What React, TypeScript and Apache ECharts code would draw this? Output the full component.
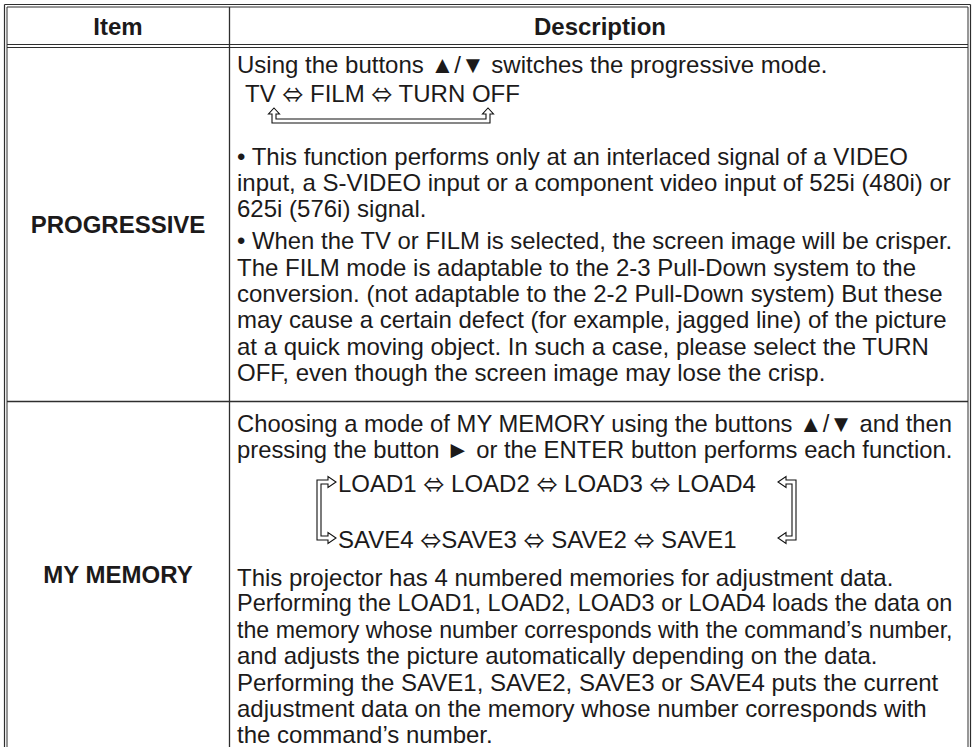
import React, { useEffect, useRef } from "react";
import * as echarts from "echarts";

const headers = ["Item", "Description"];
const items = ["PROGRESSIVE", "MY MEMORY"];
const progressiveIntro = "Using the buttons ▲/▼ switches the progressive mode.";
const progressiveCycle = "TV ⇔ FILM ⇔ TURN OFF";
const progressiveNote1 = [
  "• This function performs only at an interlaced signal of a VIDEO",
  "input, a S-VIDEO input or a component video input of 525i (480i) or",
  "625i (576i) signal.",
];
const progressiveNote2 = [
  "• When the TV or FILM is selected, the screen image will be crisper.",
  "The FILM mode is adaptable to the 2-3 Pull-Down system to the",
  "conversion. (not adaptable to the 2-2 Pull-Down system) But these",
  "may cause a certain defect (for example, jagged line) of the picture",
  "at a quick moving object. In such a case, please select the TURN",
  "OFF, even though the screen image may lose the crisp.",
];
const memoryIntro = [
  "Choosing a mode of MY MEMORY using the buttons ▲/▼ and then",
  "pressing the button ► or the ENTER button performs each function.",
];
const memoryLoad = "LOAD1 ⇔ LOAD2 ⇔ LOAD3 ⇔ LOAD4";
const memorySave = "SAVE4 ⇔SAVE3 ⇔ SAVE2 ⇔ SAVE1";
const memoryNote = [
  "This projector has 4 numbered memories for adjustment data.",
  "Performing the LOAD1, LOAD2, LOAD3 or LOAD4 loads the data on",
  "the memory whose number corresponds with the command’s number,",
  "and adjusts the picture automatically depending on the data.",
  "Performing the SAVE1, SAVE2, SAVE3 or SAVE4 puts the current",
  "adjustment data on the memory whose number corresponds with",
  "the command’s number.",
];

const FONT = "'Liberation Sans', Arial, 'Noto Sans CJK JP', sans-serif";
const TXT = "#1c1a1a";
const LINE = "#2e2e2e";
const MAX_W = 716;

let measureCtx: CanvasRenderingContext2D | null = null;
function measure(s: string, bold: boolean) {
  if (!measureCtx) {
    const c = document.createElement("canvas");
    measureCtx = c.getContext("2d");
  }
  if (!measureCtx) return 0;
  measureCtx.font = `${bold ? "bold " : ""}24px ${FONT}`;
  return measureCtx.measureText(s).width;
}

function richify(s: string) {
  return s.replace(/⇔/g, "{s|⇔}");
}

function text(x: number, y: number, s: string, opts: any = {}) {
  let scaleX = 1;
  if (opts.fit) {
    const w = measure(s, !!opts.bold);
    if (w > MAX_W) scaleX = MAX_W / w;
  }
  return {
    type: "text",
    x,
    y,
    scaleX,
    silent: true,
    style: {
      text: richify(s),
      fill: TXT,
      fontFamily: FONT,
      fontSize: 24,
      lineHeight: 22,
      fontWeight: opts.bold ? "bold" : "normal",
      align: opts.align || "left",
      verticalAlign: "middle",
      rich: {
        s: { fontFamily: "'Noto Sans CJK JP', sans-serif", fontSize: 21, lineHeight: 22, fill: TXT },
      },
    },
  };
}

function hline(x1: number, x2: number, y: number, w = 1) {
  return { type: "line", silent: true, shape: { x1, y1: y, x2, y2: y }, style: { stroke: LINE, lineWidth: w } };
}
function vline(x: number, y1: number, y2: number, w = 1) {
  return { type: "line", silent: true, shape: { x1: x, y1, x2: x, y2 }, style: { stroke: LINE, lineWidth: w } };
}
function poly(points: number[][]) {
  return {
    type: "polygon",
    silent: true,
    shape: { points },
    style: { fill: "#ffffff", stroke: "#111", lineWidth: 1.1 },
  };
}

function buildGraphic() {
  const g: any[] = [];
  const L = 4.5, R = 970.5, T = 4.5, B = 800;
  const colX = 229.5;
  const headY1 = 44.5, headY2 = 47.5;
  const rowDiv = 401.5;
  const tx = 237;
  const s = 26.3;

  // borders
  g.push(hline(L, R, T, 1.2));
  g.push(hline(L + 2.5, R - 2.5, T + 2.5, 1));
  g.push(vline(L, T, B, 1.2));
  g.push(vline(L + 2.5, T + 2.5, B, 1));
  g.push(vline(R, T, B, 1.2));
  g.push(vline(R - 2.5, T + 2.5, B, 1));
  g.push(vline(colX, T + 2.5, B, 1.3));
  g.push(hline(L + 2.5, R - 2.5, headY1, 1.2));
  g.push(hline(L + 2.5, R - 2.5, headY2, 1.2));
  g.push(hline(L + 2.5, R - 2.5, rowDiv, 1.3));

  // header
  g.push(text((L + colX) / 2 + 1, 26, headers[0], { bold: true, align: "center" }));
  g.push(text((colX + R) / 2, 26, headers[1], { bold: true, align: "center" }));

  // item labels
  g.push(text((L + colX) / 2 + 1, (headY2 + rowDiv) / 2, items[0], { bold: true, align: "center" }));
  g.push(text((L + colX) / 2 + 1, (rowDiv + 748) / 2, items[1], { bold: true, align: "center" }));

  // PROGRESSIVE description
  g.push(text(tx, 64, progressiveIntro, { fit: true }));
  g.push(text(tx + 8, 93, progressiveCycle));
  // loop arrow under TV ... OFF
  const xl = 274, xr = 488, tip = 108, base = 114, inB = 119, outB = 123;
  g.push(
    poly([
      [xl, tip], [xl + 5.5, base], [xl + 2, base], [xl + 2, inB], [xr - 2, inB], [xr - 2, base],
      [xr - 5.5, base], [xr, tip], [xr + 5.5, base], [xr + 2, base], [xr + 2, outB], [xl - 2, outB],
      [xl - 2, base], [xl - 5.5, base],
    ])
  );
  let y = 156;
  progressiveNote1.forEach((ln, i) => g.push(text(tx, y + i * s, ln, { fit: true })));
  y = y + 2 * s + s + 6;
  progressiveNote2.forEach((ln, i) => g.push(text(tx, y + i * s, ln, { fit: true })));

  // MY MEMORY description
  memoryIntro.forEach((ln, i) => g.push(text(tx, 423 + i * s, ln, { fit: true })));
  const yT = 482, yB = 538;
  g.push(text(338, yT + 1, memoryLoad));
  g.push(text(338, yB + 1, memorySave));
  // left bracket with right-pointing heads
  const oL = 317, iL = 321, hb = 328, ht = 336;
  g.push(
    poly([
      [ht, yT], [hb, yT + 5.5], [hb, yT + 2], [iL, yT + 2], [iL, yB - 2], [hb, yB - 2], [hb, yB - 5.5],
      [ht, yB], [hb, yB + 5.5], [hb, yB + 2], [oL, yB + 2], [oL, yT - 2], [hb, yT - 2], [hb, yT - 5.5],
    ])
  );
  // right bracket with left-pointing heads
  const oR = 796, iR = 792, rb = 786, rt = 778;
  g.push(
    poly([
      [rt, yT], [rb, yT - 5.5], [rb, yT - 2], [oR, yT - 2], [oR, yB + 2], [rb, yB + 2], [rb, yB + 5.5],
      [rt, yB], [rb, yB - 5.5], [rb, yB - 2], [iR, yB - 2], [iR, yT + 2], [rb, yT + 2], [rb, yT + 5.5],
    ])
  );
  memoryNote.forEach((ln, i) => g.push(text(tx, 577 + i * s, ln, { fit: true })));
  return g;
}

export default function App() {
  const ref = useRef<HTMLDivElement>(null);
  useEffect(() => {
    document.body.style.margin = "0";
    if (!ref.current) return;
    const chart = echarts.init(ref.current, null, { renderer: "svg" });
    chart.setOption({
      animation: false,
      backgroundColor: "#ffffff",
      graphic: buildGraphic(),
    });
    return () => chart.dispose();
  }, []);
  return (
    <div
      ref={ref}
      style={{ position: "fixed", left: 0, top: 0, width: 974, height: 747, background: "#fff" }}
    />
  );
}
